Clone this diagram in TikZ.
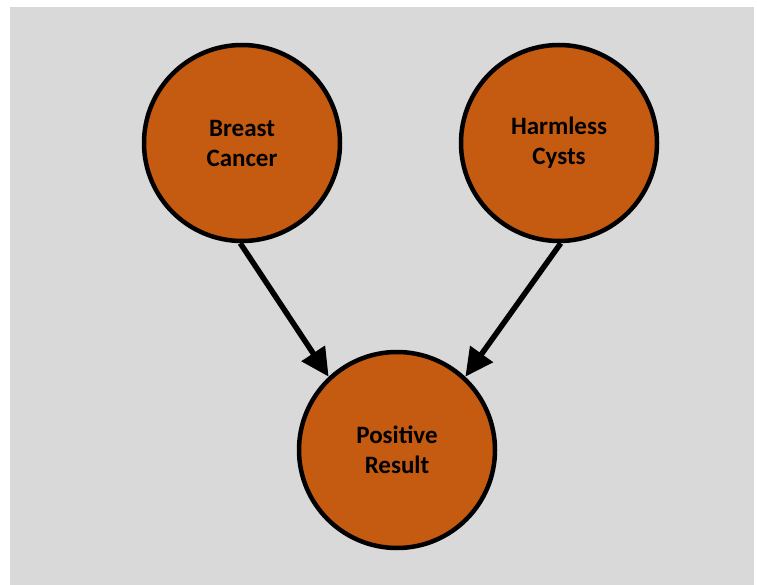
\documentclass[tikz,border=0pt]{standalone}
\usepackage{fontspec}
\setmainfont{Carlito}
\usetikzlibrary{arrows.meta}
\definecolor{bg}{HTML}{D9D9D9}
\definecolor{nodefill}{HTML}{C55A11}
\begin{document}
\begin{tikzpicture}[x=1pt,y=-1pt,
  circnode/.style={circle,draw=black,line width=4.5pt,fill=nodefill,minimum size=196pt,inner sep=0pt,
    align=center,font=\fontsize{25}{30}\selectfont\bfseries},
  conn/.style={line width=5.5pt,-{Triangle[length=28pt,width=27pt]}}]
\useasboundingbox (0,0) rectangle (757,585);
\fill[white] (0,0) rectangle (757,585);
\fill[bg] (10,7) rectangle (754,585);
\node[circnode] (bc) at (242,143) {Breast\\Cancer};
\node[circnode] (hc) at (559,143) {Harmless\\Cysts};
\node[circnode] (pr) at (397,450) {Positive\\Result};
\draw[conn] (bc.-91) -- (pr.133);
\draw[conn] (hc.-89) -- (pr.47);
\end{tikzpicture}
\end{document}
